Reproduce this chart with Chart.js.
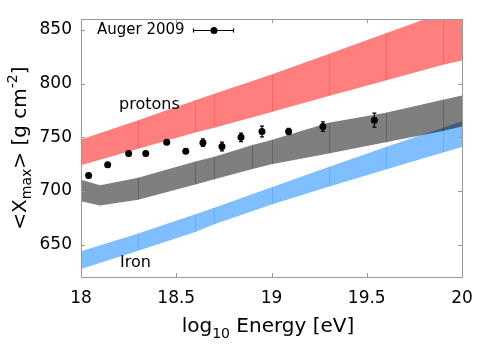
<!DOCTYPE html>
<html>
<head>
<meta charset="utf-8">
<script src="https://cdn.jsdelivr.net/npm/chart.js@4/dist/chart.umd.min.js"></script>
<style>
  body { margin: 0; background: #fff; }
  canvas { display: block; }
</style>
</head>
<body>
<canvas id="chart" width="500" height="361"></canvas>
<script>
// Auger 2009 <Xmax> points
const augerE = [18.04, 18.14, 18.25, 18.34, 18.45, 18.55, 18.64, 18.74, 18.84, 18.95, 19.09, 19.27, 19.54];
const augerX = [714.5, 724.5, 735, 735, 745.5, 737, 745, 741.5, 750, 755.5, 755.5, 760, 766];
const augerErr = [2, 2, 2, 2, 2, 2, 3.5, 4, 4, 5, 3, 4.5, 6.5];

// proton band
const protonE = [18, 18.3, 18.6, 18.7, 19, 19.3, 19.6, 19.9, 20];
const protonTop = [748, 766, 784.5, 790.5, 808.5, 827.5, 847, 866, 871];
const protonBottom = [724, 739.5, 754.5, 759, 773.5, 788.5, 803, 817.5, 821.5];

// mixed composition band
const mixE = [18, 18.1, 18.3, 18.6, 18.7, 18.9, 19, 19.3, 19.6, 19.9, 20];
const mixTop = [710.5, 705.5, 712.5, 727.5, 732, 743, 747.5, 763.5, 773, 785, 789];
const mixBottom = [690.5, 686.5, 692, 706, 711, 720.5, 725, 735, 745.5, 756, 760];

// iron band
const ironE = [18, 18.3, 18.6, 18.7, 19, 19.3, 19.6, 19.9, 20];
const ironTop = [644, 660.5, 678.5, 684.5, 703.5, 722.5, 741, 759, 765];
const ironBottom = [627.5, 644.5, 662, 669, 687.5, 704, 720, 736, 741];

const xTicks = [18, 18.5, 19, 19.5, 20];
const yTicks = [650, 700, 750, 800, 850];

const FONT = '"DejaVu Sans", sans-serif';

function pts(xs, ys) {
  return xs.map((x, i) => ({ x: x, y: ys[i] }));
}

function band(xs, ys, color, fill) {
  return {
    data: pts(xs, ys),
    borderColor: 'rgba(0,0,0,0)',
    borderWidth: 0,
    backgroundColor: color,
    pointRadius: 0,
    tension: 0,
    fill: fill ? '+1' : false
  };
}

// dataset index of each band's top line -> color of the segment lines
const segLines = { 1: 'rgba(0,0,0,0.22)', 3: 'rgba(220,0,0,0.2)', 5: 'rgba(0,100,220,0.2)' };

function richText(ctx, parts, size) {
  let w = 0;
  parts.forEach(p => {
    const s = p.k ? size * 0.7 : size;
    ctx.font = s + 'px ' + FONT;
    p.w = ctx.measureText(p.t).width;
    w += p.w;
  });
  let x = -w / 2;
  parts.forEach(p => {
    const s = p.k ? size * 0.7 : size;
    ctx.font = s + 'px ' + FONT;
    let dy = 0;
    if (p.k === 'sub') dy = size * 0.28;
    if (p.k === 'sup') dy = -size * 0.42;
    ctx.fillText(p.t, x, dy);
    x += p.w;
  });
}

const decor = {
  id: 'decor',
  beforeDatasetDraw(chart, args) {
    if (args.index !== 0) return;
    const ctx = chart.ctx, xs = chart.scales.x, ys = chart.scales.y;
    ctx.save();
    ctx.strokeStyle = '#000';
    ctx.lineWidth = 1.2;
    augerE.forEach((e, i) => {
      const px = xs.getPixelForValue(e);
      const y1 = ys.getPixelForValue(augerX[i] + augerErr[i]);
      const y2 = ys.getPixelForValue(augerX[i] - augerErr[i]);
      ctx.beginPath();
      ctx.moveTo(px, y1); ctx.lineTo(px, y2);
      ctx.moveTo(px - 2, y1); ctx.lineTo(px + 2, y1);
      ctx.moveTo(px - 2, y2); ctx.lineTo(px + 2, y2);
      ctx.stroke();
    });
    ctx.restore();
  },
  afterDatasetDraw(chart, args) {
    const color = segLines[args.index];
    if (!color) return;
    const top = chart.data.datasets[args.index].data;
    const bot = chart.data.datasets[args.index + 1].data;
    const ctx = chart.ctx, xs = chart.scales.x, ys = chart.scales.y, a = chart.chartArea;
    ctx.save();
    ctx.beginPath();
    ctx.rect(a.left, a.top, a.right - a.left, a.bottom - a.top);
    ctx.clip();
    ctx.strokeStyle = color;
    ctx.lineWidth = 1;
    for (let i = 1; i < top.length - 1; i++) {
      if (top[i].x === 18.1) continue;
      const px = Math.round(xs.getPixelForValue(top[i].x)) + 0.5;
      ctx.beginPath();
      ctx.moveTo(px, ys.getPixelForValue(top[i].y));
      ctx.lineTo(px, ys.getPixelForValue(bot[i].y));
      ctx.stroke();
    }
    ctx.restore();
  },
  afterDraw(chart) {
    const ctx = chart.ctx, a = chart.chartArea, xs = chart.scales.x, ys = chart.scales.y;
    ctx.save();
    // frame with inward ticks
    ctx.strokeStyle = '#999';
    ctx.lineWidth = 1;
    ctx.strokeRect(Math.round(a.left) + 0.5, Math.round(a.top) + 0.5,
      Math.round(a.right - a.left), Math.round(a.bottom - a.top));
    ctx.beginPath();
    xTicks.forEach(v => {
      const px = Math.round(xs.getPixelForValue(v)) + 0.5;
      ctx.moveTo(px, a.bottom); ctx.lineTo(px, a.bottom - 4);
      ctx.moveTo(px, a.top); ctx.lineTo(px, a.top + 4);
    });
    yTicks.forEach(v => {
      const py = Math.round(ys.getPixelForValue(v)) + 0.5;
      ctx.moveTo(a.left, py); ctx.lineTo(a.left + 4, py);
      ctx.moveTo(a.right, py); ctx.lineTo(a.right - 4, py);
    });
    ctx.stroke();

    ctx.fillStyle = '#000';
    ctx.textBaseline = 'alphabetic';
    // axis titles
    ctx.save();
    ctx.translate(268, 332);
    richText(ctx, [{ t: 'log' }, { t: '10', k: 'sub' }, { t: ' Energy [eV]' }], 20);
    ctx.restore();
    ctx.save();
    ctx.translate(25.5, (a.top + a.bottom) / 2);
    ctx.rotate(-Math.PI / 2);
    richText(ctx, [{ t: '<X' }, { t: 'max', k: 'sub' }, { t: '> [g cm' }, { t: '-2', k: 'sup' }, { t: ']' }], 20);
    ctx.restore();

    // band labels
    ctx.textAlign = 'left';
    ctx.font = '16px ' + FONT;
    ctx.fillText('protons', 119, 108.5);
    ctx.fillText('Iron', 120, 267);

    // key
    ctx.font = '15px ' + FONT;
    ctx.textBaseline = 'middle';
    ctx.fillText('Auger 2009', 97, 30);
    ctx.strokeStyle = '#000';
    ctx.lineWidth = 1.2;
    ctx.beginPath();
    ctx.moveTo(193, 30.5); ctx.lineTo(234, 30.5);
    ctx.moveTo(193.5, 28.5); ctx.lineTo(193.5, 32.5);
    ctx.moveTo(233.5, 28.5); ctx.lineTo(233.5, 32.5);
    ctx.stroke();
    ctx.beginPath();
    ctx.arc(214, 30.5, 3.5, 0, Math.PI * 2);
    ctx.fill();
    ctx.restore();
  }
};

new Chart(document.getElementById('chart'), {
  type: 'line',
  data: {
    datasets: [
      {
        data: pts(augerE, augerX),
        showLine: false,
        pointRadius: 3.5,
        pointBackgroundColor: '#000',
        pointBorderWidth: 0,
        borderColor: '#000'
      },
      band(mixE, mixTop, 'rgba(0,0,0,0.5)', true),
      band(mixE, mixBottom, 'rgba(0,0,0,0.5)', false),
      band(protonE, protonTop, 'rgba(255,0,0,0.5)', true),
      band(protonE, protonBottom, 'rgba(255,0,0,0.5)', false),
      band(ironE, ironTop, 'rgba(0,128,255,0.5)', true),
      band(ironE, ironBottom, 'rgba(0,128,255,0.5)', false)
    ]
  },
  options: {
    responsive: false,
    animation: false,
    devicePixelRatio: 1,
    layout: { padding: { top: 19, right: 38, left: 0, bottom: 0 } },
    plugins: {
      legend: { display: false },
      tooltip: { enabled: false }
    },
    scales: {
      x: {
        type: 'linear',
        min: 18,
        max: 20,
        grid: { display: false, drawTicks: false },
        border: { display: false },
        afterBuildTicks: s => { s.ticks = xTicks.map(v => ({ value: v })); },
        afterFit: s => { s.height = 84; },
        ticks: {
          padding: 11,
          color: '#000',
          font: { family: FONT, size: 17 },
          maxRotation: 0,
          callback: v => String(v)
        }
      },
      y: {
        min: 620,
        max: 860,
        grid: { display: false, drawTicks: false },
        border: { display: false },
        afterBuildTicks: s => { s.ticks = yTicks.map(v => ({ value: v })); },
        afterFit: s => { s.width = 81; },
        ticks: {
          padding: 9,
          color: '#000',
          font: { family: FONT, size: 17 },
          callback: v => String(v)
        }
      }
    }
  },
  plugins: [decor]
});
</script>
</body>
</html>
